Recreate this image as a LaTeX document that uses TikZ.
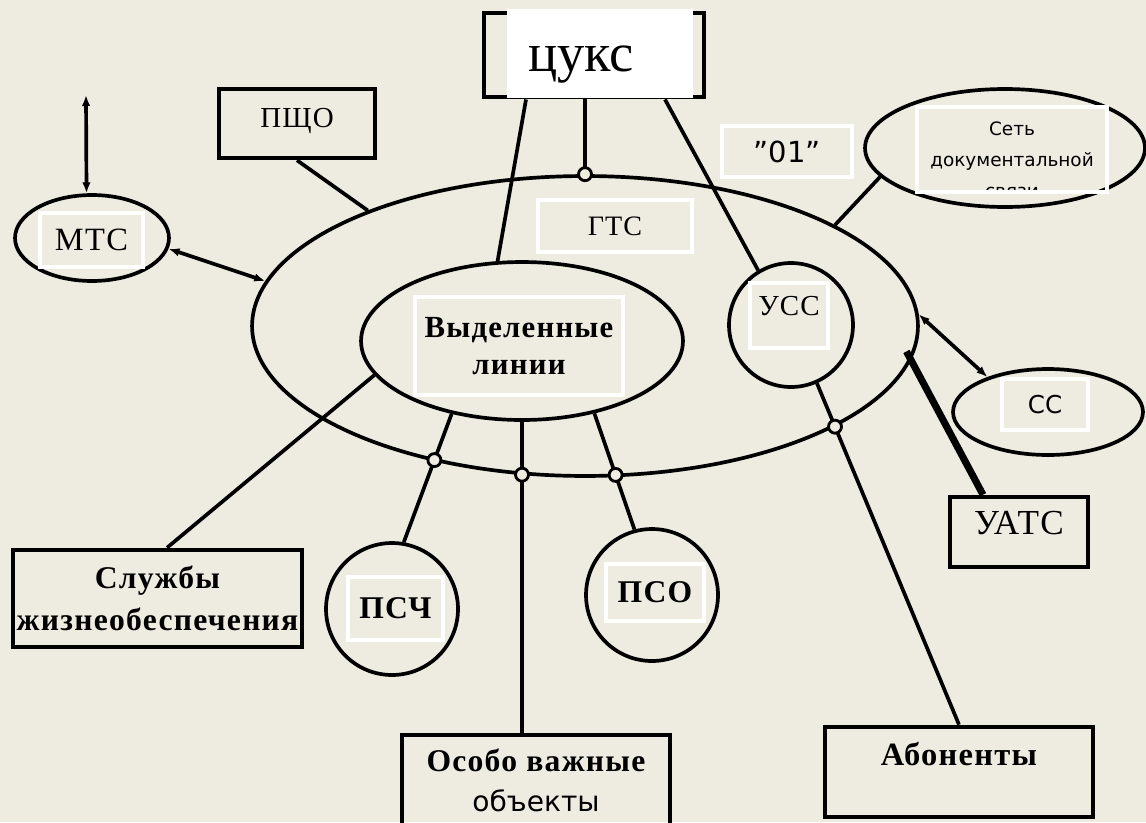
\documentclass[tikz,border=0pt]{standalone}
\usepackage{fontspec}
\setmainfont{Liberation Serif}
\newfontfamily\widerm[LetterSpace=4]{Liberation Serif}
\newfontfamily\dvsans{DejaVu Sans}
\usetikzlibrary{arrows.meta,shapes.geometric}
\definecolor{paper}{HTML}{EEECE1}

\begin{document}
\begin{tikzpicture}[x=0.02cm, y=-0.02cm, line width=2.1pt,
    >={Latex[length=2.2mm,width=1.7mm]},
    box/.style={draw, rectangle, line width=2.6pt, inner sep=0pt},
    oval/.style={draw, ellipse, inner sep=0pt},
    ring/.style={draw, circle, inner sep=0pt},
    lblbox/.style={draw=white, line width=2pt, rectangle, inner sep=0pt},
    joint/.style={draw, circle, fill=paper, inner sep=0pt, minimum size=0.26cm, line width=1.6pt}]

    \fill[paper] (0,0) rectangle (1146,822);
    \useasboundingbox (0,0) rectangle (1146,822);

    % ovals and rings
    \node[oval, minimum width=13.32cm, minimum height=6cm] (gts) at (585,326) {};
    \node[oval, minimum width=6.44cm, minimum height=3.16cm] (vl) at (522,341) {};
    \node[ring, minimum size=2.48cm] (uss) at (791,325) {};
    \node[oval, minimum width=3.08cm, minimum height=1.72cm] (mts) at (92,238) {};
    \node[oval, minimum width=5.6cm, minimum height=2.36cm] (sdc) at (1005,148) {};
    \node[oval, minimum width=3.8cm, minimum height=1.72cm] (cc) at (1048,412) {};
    \node[ring, minimum size=2.64cm] (psch) at (392,609) {};
    \node[ring, minimum size=2.64cm] (pso) at (652,595) {};

    % boxes
    \node[box, line width=2.8pt, minimum width=4.4cm, minimum height=1.68cm] (cuks) at (594,55) {};
    \node[box, minimum width=3.12cm, text height=0.76cm, text depth=0.62cm,
          font=\widerm\fontsize{16.5}{20}\selectfont] (pshco) at (297,123.5) {ПЩО};
    \node[box, minimum width=2.76cm, text height=0.74cm, text depth=0.66cm,
          font=\widerm\fontsize{20}{23}\selectfont] (uats) at (1019,532) {УАТС};
    \node[box, minimum width=5.36cm, text height=0.76cm, text depth=1.04cm,
          font=\widerm\bfseries\fontsize{18.5}{21}\selectfont] (abon) at (959,772) {Абоненты};
    \node[box, minimum width=5.78cm, minimum height=1.94cm, align=center,
          font=\widerm\bfseries\fontsize{18}{24}\selectfont] (slj) at (157.5,598.5) {Службы\\жизнеобеспечения};
    \node[box, minimum width=5.36cm, minimum height=1.82cm, align=center,
          font=\widerm\bfseries\fontsize{18}{22.5}\selectfont] (ovo) at (536,780.5)
          {Особо важные\\{\dvsans\mdseries\fontsize{16}{22.5}\selectfont объекты}};

    % connectors
    \draw ([xshift=-1.36cm]cuks.south) -- (vl.107);
    \draw (gts.north |- cuks.south) -- (gts.north) node[joint] (jgts) {};
    \draw ([xshift=1.42cm]cuks.south) -- (uss.121);
    \draw (gts.22) -- (sdc.193);
    \draw (pshco.south) -- (gts.152);
    \coordinate (mtsup) at (86,95);
    \draw[<->] (mts.97) -- (mtsup);
    \draw[<->] (mts.-8) -- (gts.172);
    \draw[<->] (gts.2) -- (cc.150);
    \draw[line width=4pt, shorten <=-0.2cm] (gts.-6) -- ([xshift=-0.72cm]uats.north);
    \draw ([xshift=0.19cm]slj.north) -- (vl.193);
    \draw (vl.226) -- node[joint, pos=0.36] (jpsch) {} (psch.80);
    \draw (vl.south) -- node[joint, pos=0.17] (jovo) {} (vl.south |- ovo.north);
    \draw (vl.315) -- node[joint, pos=0.53] (jpso) {} (pso.105);
    \draw (uss.294) -- node[joint, pos=0.127] (jab) {} (abon.north);

    % labels
    \node[lblbox, fill=white, minimum width=3.64cm, text width=2.88cm, align=left,
          inner xsep=0.38cm, text height=1.22cm, text depth=0.48cm,
          font=\fontsize{31}{36}\selectfont] (cukslbl) at (600,53.5) {цукс};
    \node[lblbox, minimum width=3.08cm, minimum height=1.04cm,
          font=\widerm\fontsize{16}{19}\selectfont] (gtslbl) at (615,226) {ГТС};
    \node[lblbox, minimum width=4.16cm, minimum height=1.96cm, align=center,
          font=\widerm\bfseries\fontsize{17.5}{21.5}\selectfont] (vllbl) at (519,346) {Выделенные\\линии};
    \node[lblbox, minimum width=2.06cm, minimum height=1.08cm,
          font=\widerm\fontsize{18.5}{21}\selectfont] (mtslbl) at (91.5,240) {МТС};
    \node[lblbox, minimum width=1.56cm, text height=0.64cm, text depth=0.66cm,
          font=\widerm\fontsize{16.5}{20}\selectfont] (usslbl) at (789,315.5) {УСС};
    \node[lblbox, minimum width=2.6cm, minimum height=1.02cm,
          font=\dvsans\fontsize{16.5}{19}\selectfont] (zerolbl) at (787,151.5) {”01”};
    \node[lblbox, minimum width=3.8cm, minimum height=1.7cm,
          path picture={\node[align=center, font=\dvsans\fontsize{10.5}{17.6}\selectfont]
            at ([yshift=-0.2cm]path picture bounding box.center) {Сеть\\документальной\\связи};}]
          (sdclbl) at (1012,149.5) {};
    \node[lblbox, minimum width=1.72cm, minimum height=1.02cm,
          font=\dvsans\fontsize{14}{16}\selectfont] (cclbl) at (1045,404.5) {СС};
    \node[lblbox, minimum width=1.9cm, minimum height=1.26cm,
          font=\widerm\bfseries\fontsize{18}{21}\selectfont] (pschlbl) at (395.5,608.5) {ПСЧ};
    \node[lblbox, minimum width=1.96cm, minimum height=1.14cm,
          font=\widerm\bfseries\fontsize{18}{21}\selectfont] (psolbl) at (655,592.5) {ПСО};
\end{tikzpicture}
\end{document}
